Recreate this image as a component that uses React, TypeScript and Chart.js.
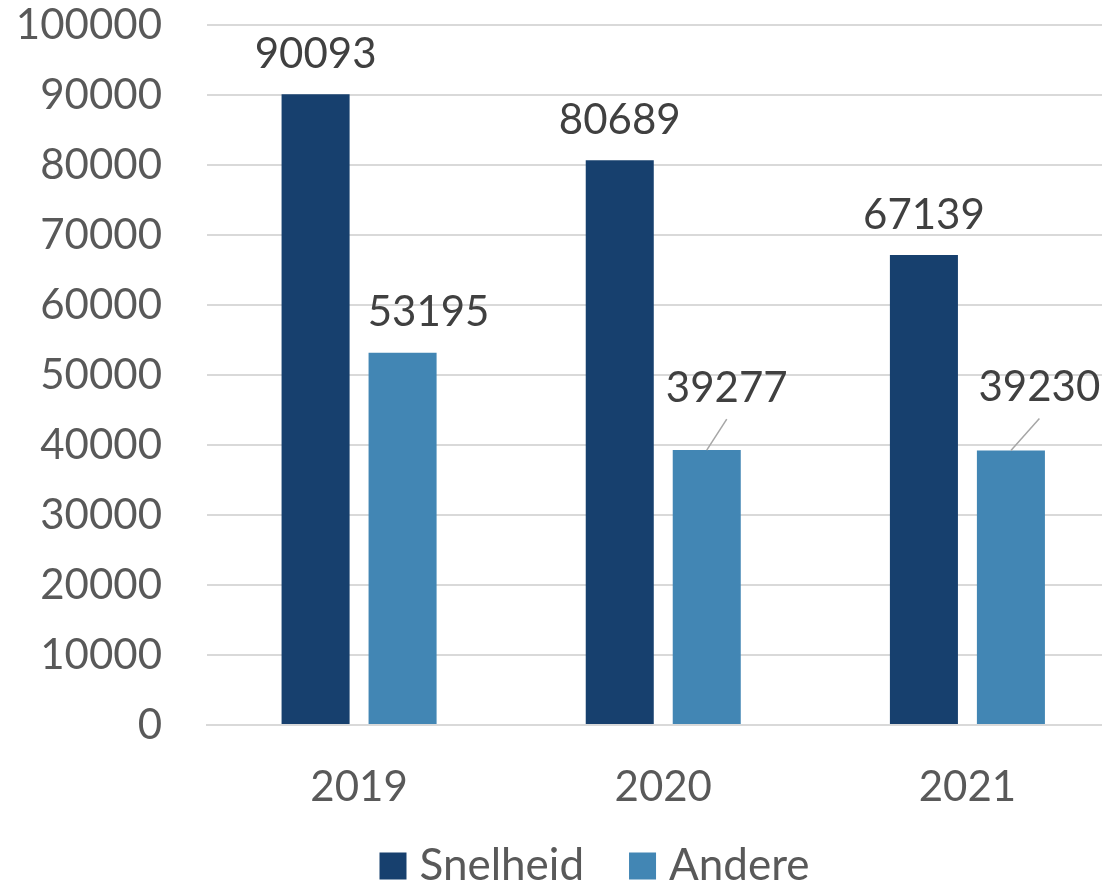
import React, { useEffect, useRef } from "react";
import { Chart, registerables } from "chart.js";

Chart.register(...registerables);

const categories = ["2019", "2020", "2021"];
const seriesNames = ["Snelheid", "Andere"];
const snelheid = [90093, 80689, 67139];
const andere = [53195, 39277, 39230];
const yTicks = [0, 10000, 20000, 30000, 40000, 50000, 60000, 70000, 80000, 90000, 100000];

const COLORS = ["#17406e", "#4286b4"];
const FONT = "Lato, 'Open Sans', sans-serif";
const FS = 42;
const LEGEND_FS = 44;

// label placement per dataset/point (style config)
const labelPlacement = [
  [
    { dx: 0, rise: 40, leader: false },
    { dx: 0, rise: 40, leader: false },
    { dx: 0, rise: 40, leader: false },
  ],
  [
    { dx: 26, rise: 40, leader: false },
    { dx: 20, rise: 62, leader: true },
    { dx: 28.5, rise: 63, leader: true },
  ],
];

const dataLabelPlugin = {
  id: "dataLabels",
  afterDatasetsDraw(chart: any) {
    const ctx = chart.ctx;
    ctx.save();
    ctx.font = `${FS}px ${FONT}`;
    ctx.fillStyle = "#404040";
    ctx.textAlign = "center";
    ctx.textBaseline = "middle";
    chart.data.datasets.forEach((ds: any, di: number) => {
      const meta = chart.getDatasetMeta(di);
      meta.data.forEach((el: any, i: number) => {
        const p = labelPlacement[di][i];
        const lx = el.x + p.dx;
        const ly = el.y - p.rise;
        if (p.leader) {
          ctx.beginPath();
          ctx.strokeStyle = "#a6a6a6";
          ctx.lineWidth = 1.5;
          ctx.moveTo(el.x, el.y);
          ctx.lineTo(lx, ly + 31);
          ctx.stroke();
        }
        ctx.fillText(String(ds.data[i]), lx, ly);
      });
    });
    ctx.restore();
  },
};

const legendPlugin = {
  id: "customLegend",
  afterDraw(chart: any) {
    const ctx = chart.ctx;
    ctx.save();
    ctx.font = `${LEGEND_FS}px ${FONT}`;
    ctx.textBaseline = "middle";
    ctx.textAlign = "left";
    const box = 27;
    const gapBoxText = 13;
    const gapItems = 45;
    const items = chart.data.datasets.map((ds: any) => ({
      label: ds.label,
      color: ds.backgroundColor,
      w: ctx.measureText(ds.label).width,
    }));
    const total = items.reduce((s: number, it: any) => s + box + gapBoxText + it.w, 0) + gapItems * (items.length - 1);
    let x = chart.width / 2 - total / 2;
    const cy = chart.height - 19;
    items.forEach((it: any) => {
      ctx.fillStyle = it.color;
      ctx.fillRect(x, cy - box / 2, box, box);
      x += box + gapBoxText;
      ctx.fillStyle = "#595959";
      ctx.fillText(it.label, x, cy);
      x += it.w + gapItems;
    });
    ctx.restore();
  },
};

export default function App() {
  const ref = useRef<HTMLCanvasElement | null>(null);
  useEffect(() => {
    document.body.style.margin = "0";
    document.body.style.overflow = "hidden";
    const chart = new Chart(ref.current as HTMLCanvasElement, {
      type: "bar",
      data: {
        labels: categories,
        datasets: [
          { label: seriesNames[0], data: snelheid, backgroundColor: COLORS[0], borderWidth: 0 },
          { label: seriesNames[1], data: andere, backgroundColor: COLORS[1], borderWidth: 0 },
        ],
      },
      options: {
        animation: false,
        responsive: false,
        maintainAspectRatio: false,
        layout: { padding: { top: 25, right: 69.5, left: 0, bottom: 0 } },
        datasets: { bar: { categoryPercentage: 0.572, barPercentage: 0.782 } },
        plugins: {
          legend: { display: false },
          tooltip: { enabled: false },
        },
        scales: {
          x: {
            afterFit(scale: any) {
              scale.height = 160;
              scale.paddingLeft = 0;
              scale.paddingRight = 0;
            },
            grid: { display: false, drawTicks: false },
            border: { display: true, color: "#d9d9d9", width: 2 },
            ticks: { color: "#595959", font: { family: FONT, size: FS }, padding: 37 },
          },
          y: {
            min: 0,
            max: 100000,
            afterBuildTicks(scale: any) {
              scale.ticks = yTicks.map((v) => ({ value: v }));
            },
            afterFit(scale: any) {
              scale.width = 207;
              scale.paddingTop = 0;
              scale.paddingBottom = 0;
            },
            grid: { color: "#d9d9d9", lineWidth: 2, drawTicks: false },
            border: { display: false },
            ticks: {
              color: "#595959",
              font: { family: FONT, size: FS },
              padding: 45,
              callback: (v: any) => String(v),
            },
          },
        },
      },
      plugins: [dataLabelPlugin, legendPlugin],
    });
    return () => chart.destroy();
  }, []);
  return (
    <div style={{ position: "absolute", left: 0, top: 0, width: 1189, height: 885 }}>
      <canvas ref={ref} width={1189} height={885} style={{ width: 1189, height: 885 }} />
    </div>
  );
}
